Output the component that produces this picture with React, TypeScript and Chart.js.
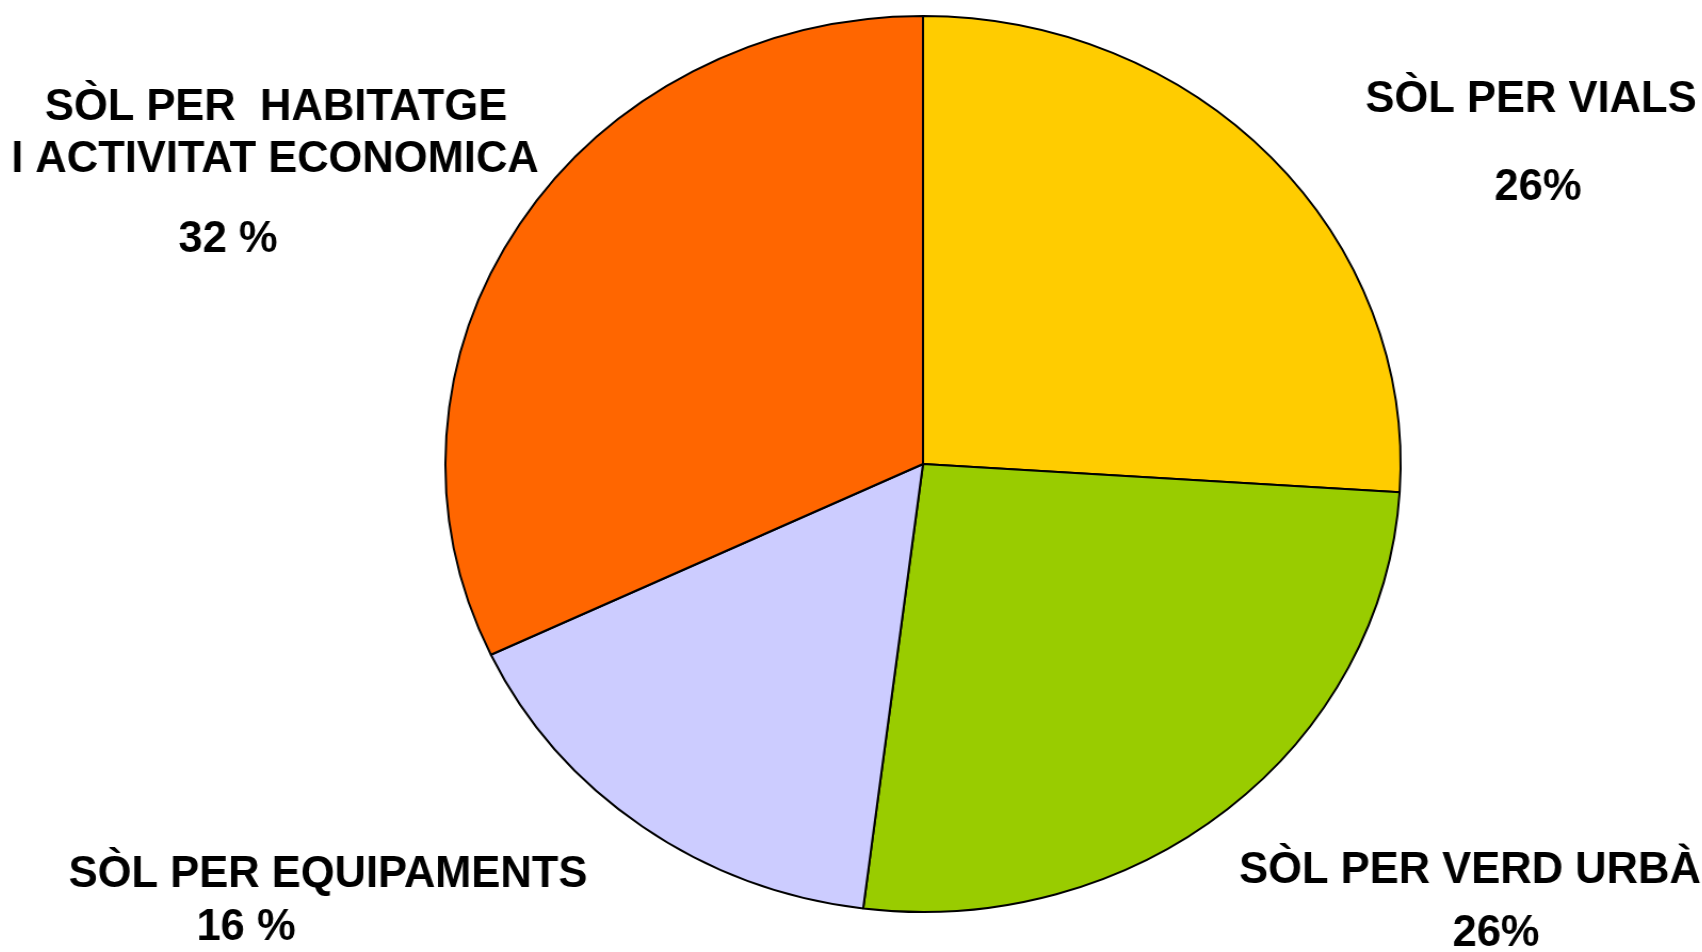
import React, { useEffect, useRef } from "react";
import { Chart, registerables } from "chart.js";

Chart.register(...registerables);

// ---- data ----
const categories = [
  "SÒL PER VIALS",
  "SÒL PER VERD URBÀ",
  "SÒL PER EQUIPAMENTS",
  "SÒL PER HABITATGE I ACTIVITAT ECONOMICA",
];
const shares = [26, 26, 16, 32];
const sliceColors = ["#FFCC00", "#99CC00", "#CCCCFF", "#FF6600"];

// label text lines (as printed in the chart)
const labelLines: string[][] = [
  ["SÒL PER VIALS", "26%"],
  ["SÒL PER VERD URBÀ", "26%"],
  ["SÒL PER EQUIPAMENTS", "16 %"],
  ["SÒL PER  HABITATGE", "I ACTIVITAT ECONOMICA", "32 %"],
];

// ---- layout (display coordinates, baseline of each line) ----
const W = 1702;
const H = 952;
const CX = 923; // pie centre x
const SX = 1.066; // horizontal stretch -> elliptical pie
const labelPos: { x: number; y: number }[][] = [
  [
    { x: 1531, y: 112 },
    { x: 1538, y: 200 },
  ],
  [
    { x: 1470, y: 883 },
    { x: 1496, y: 946 },
  ],
  [
    { x: 328, y: 887 },
    { x: 246, y: 940 },
  ],
  [
    { x: 276, y: 120 },
    { x: 275, y: 172 },
    { x: 228, y: 252 },
  ],
];

const labelPlugin = {
  id: "sliceLabels",
  afterDraw(chart: any) {
    const ctx = chart.ctx as CanvasRenderingContext2D;
    ctx.save();
    ctx.fillStyle = "#000";
    ctx.font = "bold 43.5px 'Liberation Sans', Arial, sans-serif";
    ctx.textAlign = "center";
    ctx.textBaseline = "alphabetic";
    labelLines.forEach((lines, i) => {
      lines.forEach((t, j) => {
        const p = labelPos[i][j];
        const x = CX + (p.x - CX) / SX;
        ctx.save();
        ctx.translate(x, p.y);
        ctx.scale(1 / SX, 1);
        ctx.fillText(t, 0, 0);
        ctx.restore();
      });
    });
    ctx.restore();
  },
};

export default function App() {
  const ref = useRef<HTMLCanvasElement | null>(null);
  useEffect(() => {
    if (!ref.current) return;
    const chart = new Chart(ref.current, {
      type: "pie",
      data: {
        labels: categories,
        datasets: [
          {
            data: shares,
            backgroundColor: sliceColors,
            borderColor: "#000000",
            borderWidth: 2,
          },
        ],
      },
      options: {
        animation: false,
        responsive: false,
        radius: 448,
        layout: { padding: { left: 144, right: 0, top: 0, bottom: 24 } },
        plugins: {
          legend: { display: false },
          tooltip: { enabled: false },
        },
      } as any,
      plugins: [labelPlugin],
    });
    return () => chart.destroy();
  }, []);
  return (
    <div
      style={{
        position: "absolute",
        left: 0,
        top: 0,
        width: W,
        height: H,
        background: "#fff",
        overflow: "hidden",
      }}
    >
      <canvas
        ref={ref}
        width={W}
        height={H}
        style={{
          display: "block",
          width: W,
          height: H,
          transform: `scaleX(${SX})`,
          transformOrigin: `${CX}px 0px`,
        }}
      />
    </div>
  );
}
